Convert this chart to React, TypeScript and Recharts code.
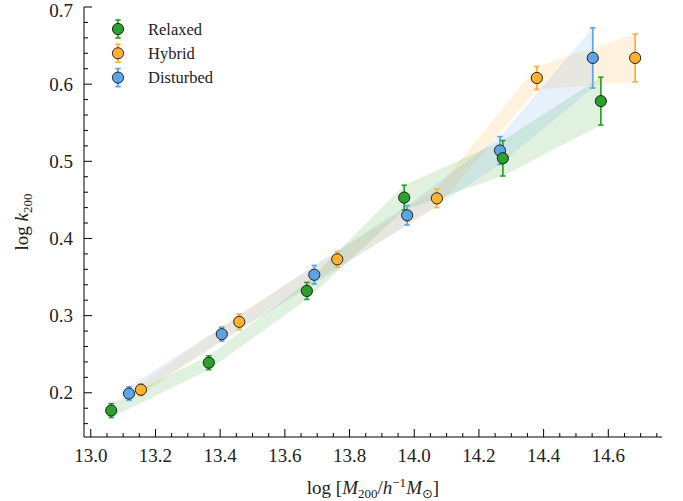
import React from 'react';
import { ComposedChart, Scatter, Area, XAxis, YAxis, ErrorBar, Legend, Label } from 'recharts';

const FONT = '"Liberation Serif", "Times New Roman", "DejaVu Serif", serif';

// groups and colours
const categories = ['Relaxed', 'Hybrid', 'Disturbed'];
const colors = ['#2ca02c', '#fdb12f', '#5ca4e6'];

// log M200 / log k200 / 1-sigma errors
const relaxedMass = [13.063, 13.365, 13.668, 13.969, 14.274, 14.577];
const relaxedK = [0.177, 0.239, 0.332, 0.453, 0.504, 0.578];
const relaxedErr = [0.009, 0.009, 0.011, 0.016, 0.023, 0.031];

const hybridMass = [13.155, 13.459, 13.762, 14.07, 14.379, 14.683];
const hybridK = [0.204, 0.292, 0.373, 0.452, 0.608, 0.634];
const hybridErr = [0.0075, 0.01, 0.01, 0.012, 0.015, 0.031];

const disturbedMass = [13.118, 13.405, 13.691, 13.978, 14.265, 14.552];
const disturbedK = [0.199, 0.276, 0.353, 0.43, 0.514, 0.634];
const disturbedErr = [0.0087, 0.009, 0.012, 0.0125, 0.018, 0.039];

const xMajorTicks = [13.0, 13.2, 13.4, 13.6, 13.8, 14.0, 14.2, 14.4, 14.6];
const xMinorTicks = [
  13.05, 13.1, 13.15, 13.25, 13.3, 13.35, 13.45, 13.5, 13.55, 13.65, 13.7, 13.75,
  13.85, 13.9, 13.95, 14.05, 14.1, 14.15, 14.25, 14.3, 14.35, 14.45, 14.5, 14.55,
  14.65, 14.7, 14.75,
];
const yMajorTicks = [0.2, 0.3, 0.4, 0.5, 0.6, 0.7];
const yMinorTicks = [
  0.16, 0.18, 0.22, 0.24, 0.26, 0.28, 0.32, 0.34, 0.36, 0.38, 0.42, 0.44, 0.46, 0.48,
  0.52, 0.54, 0.56, 0.58, 0.62, 0.64, 0.66, 0.68,
];

const X_DOMAIN = [12.979, 14.766];
const Y_DOMAIN = [0.1427, 0.7];

const build = (mass: number[], k: number[], err: number[]) =>
  mass.map((x, i) => ({ x, y: k[i], err: err[i], band: [k[i] - err[i], k[i] + err[i]] }));

const relaxed = build(relaxedMass, relaxedK, relaxedErr);
const hybrid = build(hybridMass, hybridK, hybridErr);
const disturbed = build(disturbedMass, disturbedK, disturbedErr);

const isMajor = (v: number, majors: number[]) => majors.some((m) => Math.abs(m - v) < 1e-6);

const allX = [...xMajorTicks, ...xMinorTicks].sort((a, b) => a - b);
const allY = [...yMajorTicks, ...yMinorTicks].sort((a, b) => a - b);

const textStyle = { fontFamily: FONT, fill: '#222' };

const BottomTick = (props: any) => {
  const { x, y, payload } = props;
  const major = isMajor(payload.value, xMajorTicks);
  return (
    <g>
      <line x1={x} x2={x} y1={y} y2={y - (major ? 8 : 4)} stroke="#000" strokeWidth={1} />
      {major && (
        <text x={x} y={y + 25} textAnchor="middle" style={{ ...textStyle, fontSize: 19 }}>
          {payload.value.toFixed(1)}
        </text>
      )}
    </g>
  );
};

const TopTick = (props: any) => {
  const { x, y, payload } = props;
  const major = isMajor(payload.value, xMajorTicks);
  return <line x1={x} x2={x} y1={y} y2={y + (major ? 8 : 4)} stroke="#000" strokeWidth={1} />;
};

const LeftTick = (props: any) => {
  const { x, y, payload } = props;
  const major = isMajor(payload.value, yMajorTicks);
  // the top label sits a little lower so it stays inside the figure
  const atTop = Math.abs(payload.value - Y_DOMAIN[1]) < 1e-6;
  return (
    <g>
      <line x1={x} x2={x + (major ? 8 : 4)} y1={y} y2={y} stroke="#000" strokeWidth={1} />
      {major && (
        <text
          x={x - 11}
          y={y + (atTop ? 10 : 6.5)}
          textAnchor="end"
          style={{ ...textStyle, fontSize: 19 }}
        >
          {payload.value.toFixed(1)}
        </text>
      )}
    </g>
  );
};

const RightTick = (props: any) => {
  const { x, y, payload } = props;
  const major = isMajor(payload.value, yMajorTicks);
  return <line x1={x} x2={x - (major ? 8 : 4)} y1={y} y2={y} stroke="#000" strokeWidth={1} />;
};

const XTitle = (props: any) => {
  const { viewBox } = props;
  const cx = viewBox.x + viewBox.width / 2;
  return (
    <text x={cx} y={viewBox.y + 57} textAnchor="middle" style={{ ...textStyle, fontSize: 19 }}>
      <tspan>log [</tspan>
      <tspan fontStyle="italic">M</tspan>
      <tspan fontSize={13} dy={4}>200</tspan>
      <tspan dy={-4}>/</tspan>
      <tspan fontStyle="italic">h</tspan>
      <tspan fontSize={13} dy={-7}>−1</tspan>
      <tspan fontStyle="italic" dy={7}>M</tspan>
      <tspan fontSize={13} dy={4} style={{ fontFamily: '"DejaVu Sans", sans-serif' }}>⊙</tspan>
      <tspan dy={-4}>]</tspan>
    </text>
  );
};

const YTitle = () => (
  <text
    x={28}
    y={222}
    transform="rotate(-90 28 222)"
    textAnchor="middle"
    style={{ ...textStyle, fontSize: 19 }}
  >
    <tspan>log </tspan>
    <tspan fontStyle="italic">k</tspan>
    <tspan fontSize={13} dy={4}>200</tspan>
  </text>
);

const Dot = (color: string) => (p: any) => (
  <circle cx={p.cx} cy={p.cy} r={5.6} fill={color} stroke="#111" strokeWidth={0.9} />
);

const LegendBox = () => (
  <svg width={140} height={80}>
    {categories.map((name, i) => {
      const cy = 12 + i * 24.3;
      return (
        <g key={name}>
          <line x1={13} x2={13} y1={cy - 9} y2={cy + 9} stroke={colors[i]} strokeWidth={1.7} />
          <line x1={10.3} x2={15.7} y1={cy - 9} y2={cy - 9} stroke={colors[i]} strokeWidth={1.7} />
          <line x1={10.3} x2={15.7} y1={cy + 9} y2={cy + 9} stroke={colors[i]} strokeWidth={1.7} />
          <circle cx={13} cy={cy} r={5.6} fill={colors[i]} stroke="#111" strokeWidth={0.9} />
          <text x={43} y={cy + 5.5} style={{ ...textStyle, fontSize: 16.5 }}>
            {name}
          </text>
        </g>
      );
    })}
  </svg>
);

export default function App() {
  const series = [
    { data: relaxed, color: colors[0] },
    { data: hybrid, color: colors[1] },
    { data: disturbed, color: colors[2] },
  ];
  // draw order of markers: disturbed, hybrid, relaxed on top
  const markerOrder = [2, 1, 0];

  return (
    <div style={{ position: 'absolute', left: 0, top: 0, background: '#fff' }}>
      <ComposedChart width={683} height={501} margin={{ top: 7, right: 21, bottom: 0, left: 0 }}>
        <XAxis
          xAxisId={0}
          dataKey="x"
          type="number"
          domain={X_DOMAIN}
          allowDataOverflow
          ticks={allX}
          interval={0}
          tick={<BottomTick />}
          tickLine={false}
          tickSize={0}
          tickMargin={0}
          height={64}
          axisLine={{ stroke: '#000', strokeWidth: 1 }}
        >
          <Label content={<XTitle />} />
        </XAxis>
        <XAxis
          xAxisId={1}
          orientation="top"
          dataKey="x"
          type="number"
          domain={X_DOMAIN}
          allowDataOverflow
          ticks={allX}
          interval={0}
          tick={<TopTick />}
          tickLine={false}
          tickSize={0}
          tickMargin={0}
          height={0}
          axisLine={{ stroke: '#000', strokeWidth: 1 }}
        />
        <YAxis
          yAxisId={0}
          dataKey="y"
          type="number"
          domain={Y_DOMAIN}
          allowDataOverflow
          ticks={allY}
          interval={0}
          tick={<LeftTick />}
          tickLine={false}
          tickSize={0}
          tickMargin={0}
          width={84}
          axisLine={{ stroke: '#000', strokeWidth: 1 }}
        />
        <YAxis
          yAxisId={1}
          orientation="right"
          dataKey="y"
          type="number"
          domain={Y_DOMAIN}
          allowDataOverflow
          ticks={allY}
          interval={0}
          tick={<RightTick />}
          tickLine={false}
          tickSize={0}
          tickMargin={0}
          width={0}
          axisLine={{ stroke: '#000', strokeWidth: 1 }}
        />
        {series.map((s, i) => (
          <Area
            key={'band-' + categories[i]}
            data={s.data}
            dataKey="band"
            type="linear"
            stroke="none"
            fill={s.color}
            fillOpacity={0.15}
            activeDot={false}
            dot={false}
            isAnimationActive={false}
          />
        ))}
        {markerOrder.map((i) => (
          <Scatter
            key={'pts-' + categories[i]}
            name={categories[i]}
            data={series[i].data}
            dataKey="y"
            shape={Dot(series[i].color)}
            isAnimationActive={false}
          >
            <ErrorBar
              dataKey="err"
              direction="y"
              width={2.7}
              strokeWidth={1.7}
              stroke={series[i].color}
              isAnimationActive={false}
            />
          </Scatter>
        ))}
        <Legend
          layout="vertical"
          align="center"
          verticalAlign="middle"
          wrapperStyle={{ left: 105, top: 17, width: 140, height: 80 }}
          content={<LegendBox />}
        />
        <YTitle />
      </ComposedChart>
    </div>
  );
}
